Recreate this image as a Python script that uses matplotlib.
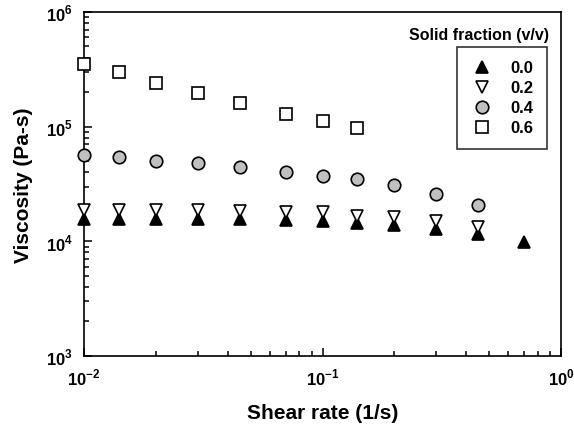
import matplotlib
matplotlib.use("Agg")
import matplotlib.pyplot as plt
from matplotlib.ticker import FixedLocator, LogLocator, NullFormatter

plt.rcParams['font.family'] = ['Liberation Sans', 'DejaVu Sans']
plt.rcParams['font.weight'] = 'bold'
plt.rcParams['mathtext.fontset'] = 'custom'
plt.rcParams['mathtext.rm'] = 'Liberation Sans:bold'
plt.rcParams['mathtext.bf'] = 'Liberation Sans:bold'

# shear rate (1/s)
rate = [0.01, 0.014, 0.02, 0.03, 0.045, 0.07, 0.1, 0.14, 0.2, 0.3, 0.45, 0.7]

# viscosity (Pa-s) per solid fraction
visc_00 = [15700, 15700, 15700, 15600, 15500, 15300, 15100, 14400, 13900, 12800, 11600, 9930]
visc_02 = [18800, 18800, 18800, 18600, 18400, 18000, 17900, 16700, 16200, 15100, 13300]
visc_04 = [56900, 54700, 50500, 47900, 44500, 40500, 37300, 34800, 31000, 26000, 20700]
visc_06 = [352000, 300000, 240000, 197000, 161000, 129000, 112000, 97000]

labels = ["0.0", "0.2", "0.4", "0.6"]

fig = plt.figure(figsize=(5.74, 4.27), dpi=100)
ax = fig.add_axes([0.1463, 0.164, 0.8311, 0.8056])

ms = 9
ax.plot(rate[:len(visc_00)], visc_00, ls='none', marker='^', ms=ms, mfc='black', mec='black', mew=1.2, label=labels[0], clip_on=False, zorder=3)
ax.plot(rate[:len(visc_02)], visc_02, ls='none', marker='v', ms=ms, mfc='white', mec='black', mew=1.2, label=labels[1], clip_on=False, zorder=4)
ax.plot(rate[:len(visc_04)], visc_04, ls='none', marker='o', ms=ms, mfc='#c0c0c0', mec='black', mew=1.2, label=labels[2], clip_on=False, zorder=3)
ax.plot(rate[:len(visc_06)], visc_06, ls='none', marker='s', ms=ms, mfc='white', mec='black', mew=1.2, label=labels[3], clip_on=False, zorder=3)

ax.set_xscale('log')
ax.set_yscale('log')
ax.set_xlim(0.01, 1)
ax.set_ylim(1e3, 1e6)

ax.xaxis.set_major_locator(FixedLocator([0.01, 0.1, 1]))
ax.yaxis.set_major_locator(FixedLocator([1e3, 1e4, 1e5, 1e6]))
ax.set_xticklabels([r'$10^{-2}$', r'$10^{-1}$', r'$10^{0}$'])
ax.set_yticklabels([r'$10^{3}$', r'$10^{4}$', r'$10^{5}$', r'$10^{6}$'])
ax.xaxis.set_minor_locator(LogLocator(base=10, subs=range(2, 10)))
ax.yaxis.set_minor_locator(LogLocator(base=10, subs=range(2, 10)))
ax.xaxis.set_minor_formatter(NullFormatter())
ax.yaxis.set_minor_formatter(NullFormatter())

ax.tick_params(which='both', direction='in', top=False, right=False, width=1.1, labelsize=12)
ax.tick_params(which='major', length=6, pad=8)
ax.tick_params(which='minor', length=3.5)
for s in ax.spines.values():
    s.set_linewidth(1.2)

ax.set_xlabel('Shear rate (1/s)', fontsize=15, fontweight='bold', labelpad=11)
ax.set_ylabel('Viscosity (Pa-s)', fontsize=15, fontweight='bold', labelpad=9)

leg = ax.legend(loc='upper right', bbox_to_anchor=(0.9706, 0.898), frameon=True, fancybox=False,
                edgecolor='black', fontsize=12, handletextpad=1.0, borderpad=0.8,
                labelspacing=0.3, borderaxespad=0, handlelength=1.4)
leg.get_frame().set_linewidth(1.2)
for t in leg.get_texts():
    t.set_fontweight('bold')
ax.text(0.9745, 0.935, 'Solid fraction (v/v)', transform=ax.transAxes, ha='right', va='center',
        fontsize=11.5, fontweight='bold')

fig.savefig('out.png', dpi=100)
